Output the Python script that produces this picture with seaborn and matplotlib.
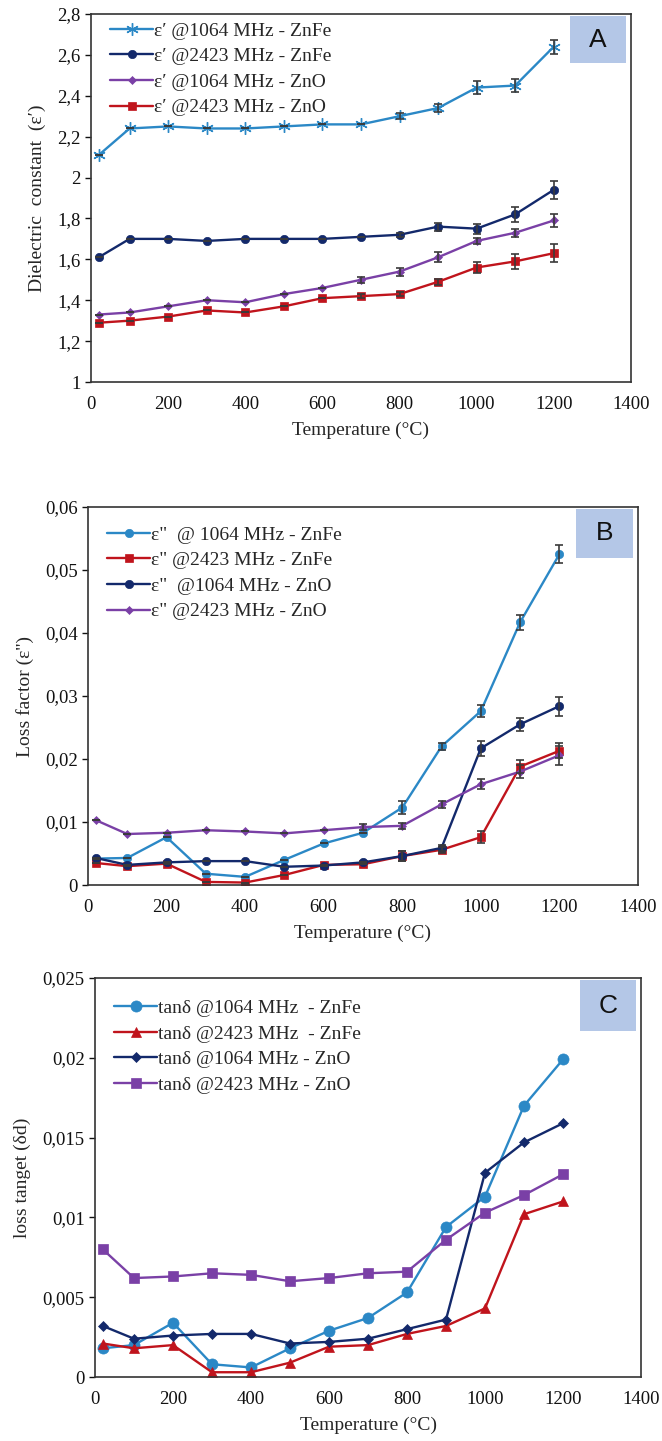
import numpy as np
import pandas as pd
import matplotlib
matplotlib.use("Agg")
import matplotlib.pyplot as plt
import seaborn as sns
from matplotlib.ticker import FuncFormatter, MultipleLocator
from matplotlib.patches import Rectangle

sns.set_theme(style="white")
plt.rcParams['font.family'] = ['Liberation Serif', 'DejaVu Serif']

temps = [20, 100, 200, 300, 400, 500, 600, 700, 800, 900, 1000, 1100, 1200]

# Panel A: dielectric constant
a_labels = ["ε′ @1064 MHz - ZnFe", "ε′ @2423 MHz - ZnFe", "ε′ @1064 MHz - ZnO", "ε′ @2423 MHz - ZnO"]
a_znfe_1064 = [2.11, 2.24, 2.25, 2.24, 2.24, 2.25, 2.26, 2.26, 2.30, 2.34, 2.44, 2.45, 2.64]
a_znfe_2423 = [1.61, 1.70, 1.70, 1.69, 1.70, 1.70, 1.70, 1.71, 1.72, 1.76, 1.75, 1.82, 1.94]
a_zno_1064 = [1.33, 1.34, 1.37, 1.40, 1.39, 1.43, 1.46, 1.50, 1.54, 1.61, 1.69, 1.73, 1.79]
a_zno_2423 = [1.29, 1.30, 1.32, 1.35, 1.34, 1.37, 1.41, 1.42, 1.43, 1.49, 1.56, 1.59, 1.63]
a_err_znfe_1064 = [0, 0, 0, 0, 0, 0, 0, 0, 0.015, 0.02, 0.03, 0.03, 0.035]
a_err_znfe_2423 = [0, 0, 0, 0, 0, 0, 0, 0, 0.01, 0.02, 0.025, 0.035, 0.045]
a_err_zno_1064 = [0, 0, 0, 0, 0, 0, 0, 0.015, 0.02, 0.025, 0.015, 0.02, 0.03]
a_err_zno_2423 = [0, 0, 0, 0, 0, 0, 0, 0.01, 0.01, 0.015, 0.025, 0.035, 0.045]

# Panel B: loss factor
b_labels = ['ε"  @ 1064 MHz - ZnFe', 'ε" @2423 MHz - ZnFe', 'ε"  @1064 MHz - ZnO', 'ε" @2423 MHz - ZnO']
b_znfe_1064 = [0.0042, 0.0043, 0.0076, 0.0018, 0.0013, 0.0040, 0.0066, 0.0083, 0.0123, 0.0220, 0.0276, 0.0417, 0.0525]
b_znfe_2423 = [0.0035, 0.0030, 0.0034, 0.0005, 0.0004, 0.0016, 0.0032, 0.0033, 0.0046, 0.0056, 0.0076, 0.0188, 0.0213]
b_zno_1064 = [0.0043, 0.0032, 0.0036, 0.0038, 0.0038, 0.0029, 0.0031, 0.0036, 0.0046, 0.0059, 0.0217, 0.0255, 0.0284]
b_zno_2423 = [0.0103, 0.0081, 0.0083, 0.0087, 0.0085, 0.0082, 0.0087, 0.0092, 0.0094, 0.0128, 0.0160, 0.0180, 0.0206]
b_err_znfe_1064 = [0, 0, 0, 0, 0, 0, 0, 0, 0.001, 0.0005, 0.001, 0.0012, 0.0014]
b_err_znfe_2423 = [0, 0, 0, 0, 0, 0, 0, 0, 0.0008, 0.0005, 0.0009, 0.001, 0.0012]
b_err_zno_1064 = [0, 0, 0, 0, 0, 0, 0, 0, 0.0008, 0.0005, 0.0012, 0.001, 0.0015]
b_err_zno_2423 = [0, 0, 0, 0, 0, 0, 0, 0.0005, 0.0005, 0.0006, 0.0008, 0.001, 0.0015]

# Panel C: loss tangent
c_labels = ["tanδ @1064 MHz  - ZnFe", "tanδ @2423 MHz  - ZnFe", "tanδ @1064 MHz - ZnO", "tanδ @2423 MHz - ZnO"]
c_znfe_1064 = [0.0018, 0.0020, 0.0034, 0.0008, 0.0006, 0.0018, 0.0029, 0.0037, 0.0053, 0.0094, 0.0113, 0.0170, 0.0199]
c_znfe_2423 = [0.0021, 0.0018, 0.0020, 0.0003, 0.0003, 0.0009, 0.0019, 0.0020, 0.0027, 0.0032, 0.0043, 0.0102, 0.0110]
c_zno_1064 = [0.0032, 0.0024, 0.0026, 0.0027, 0.0027, 0.0021, 0.0022, 0.0024, 0.0030, 0.0036, 0.0128, 0.0147, 0.0159]
c_zno_2423 = [0.0080, 0.0062, 0.0063, 0.0065, 0.0064, 0.0060, 0.0062, 0.0065, 0.0066, 0.0086, 0.0103, 0.0114, 0.0127]

LBLUE = "#2B88C6"
NAVY = "#13296B"
PURPLE = "#7A40A6"
RED = "#C0141C"

fig = plt.figure(figsize=(6.62, 14.41), dpi=100)
axA = fig.add_axes([0.1375, 0.7349, 0.953 - 0.1375, 0.9903 - 0.7349])
axB = fig.add_axes([0.1329, 0.3858, 0.9637 - 0.1329, 0.6482 - 0.3858])
axC = fig.add_axes([0.1435, 0.0444, 0.9683 - 0.1435, 0.3213 - 0.0444])

fmt = FuncFormatter(lambda v, p: ("%g" % round(v, 6)).replace('.', ','))


def draw(ax, series, labels, colors, markers, msizes, errs):
    for ys, lab, col, mk, ms, er in zip(series, labels, colors, markers, msizes, errs):
        df = pd.DataFrame({"T": temps, "v": ys})
        sns.lineplot(data=df, x="T", y="v", ax=ax, color=col, marker=mk,
                     markersize=ms, linewidth=1.7, label=lab,
                     markeredgecolor=col, markeredgewidth=1.0 if mk == (6, 2, 0) else 0.5)
        if er is not None:
            ax.errorbar(temps, ys, yerr=er, fmt='none', ecolor='#3a3a3a',
                        elinewidth=1.2, capsize=3, capthick=1.2, zorder=3)


draw(axA, [a_znfe_1064, a_znfe_2423, a_zno_1064, a_zno_2423], a_labels,
     [LBLUE, NAVY, PURPLE, RED], [(6, 2, 0), 'o', 'D', 's'], [9, 6, 4.5, 6],
     [a_err_znfe_1064, a_err_znfe_2423, a_err_zno_1064, a_err_zno_2423])
draw(axB, [b_znfe_1064, b_znfe_2423, b_zno_1064, b_zno_2423], b_labels,
     [LBLUE, RED, NAVY, PURPLE], ['o', 's', 'o', 'D'], [6, 6, 6, 4.5],
     [b_err_znfe_1064, b_err_znfe_2423, b_err_zno_1064, b_err_zno_2423])
draw(axC, [c_znfe_1064, c_znfe_2423, c_zno_1064, c_zno_2423], c_labels,
     [LBLUE, RED, NAVY, PURPLE], ['o', '^', 'D', 's'], [8, 7, 5, 7.5],
     [None, None, None, None])

setup = [
    (axA, (1, 2.8), 0.2, "Dielectric  constant  (ε′)", "A", 1.031),
    (axB, (0, 0.06), 0.01, "Loss factor (ε'')", "B", 1.001),
    (axC, (0, 0.025), 0.005, "loss tanget (δd)", "C", 0.995),
]
for ax, ylim, step, ylab, tag, ly in setup:
    ax.set_xlim(0, 1400)
    ax.set_ylim(*ylim)
    ax.xaxis.set_major_locator(MultipleLocator(200))
    ax.yaxis.set_major_locator(MultipleLocator(step))
    ax.yaxis.set_major_formatter(fmt)
    ax.tick_params(axis='x', length=0, labelsize=13.5, pad=10, colors='#111111')
    ax.tick_params(axis='y', length=4, width=1, direction='out', labelsize=13.5,
                   colors='#111111', left=True)
    for s in ax.spines.values():
        s.set_color('#333333')
        s.set_linewidth(1.2)
    ax.set_xlabel("Temperature (°C)", fontsize=14, labelpad=6)
    ax.set_ylabel(ylab, fontsize=14, labelpad=8)
    ax.grid(False)
    leg = ax.legend(loc='upper left', bbox_to_anchor=(0.0, ly), frameon=False,
                    fontsize=14, handlelength=2.2, handletextpad=0.05,
                    labelspacing=0.41, borderaxespad=0.6)
    # label box
    ax.add_patch(Rectangle((0.888, 0.866), 0.103, 0.128, transform=ax.transAxes,
                           facecolor='#B4C7E7', edgecolor='none', zorder=5))
    ax.text(0.9395, 0.93, tag, transform=ax.transAxes, ha='center', va='center',
            fontsize=19, family=['Liberation Sans', 'DejaVu Sans'], color='#111111', zorder=6)

fig.savefig("out.png", dpi=100)
